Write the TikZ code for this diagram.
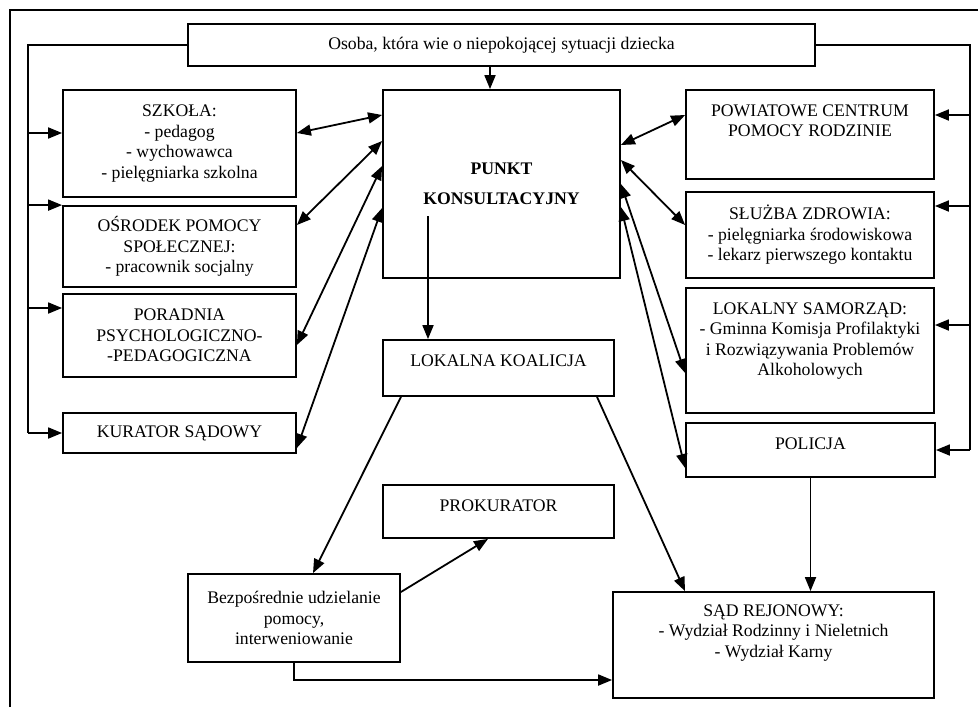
\documentclass[tikz,border=0pt]{standalone}
\usepackage{fontspec}
\setmainfont{Liberation Serif}
\usetikzlibrary{arrows.meta}

\begin{document}
\begin{tikzpicture}[x=0.5pt,y=-0.5pt,
  box/.style={draw,line width=0.9pt,inner sep=0pt},
  txt/.style={align=center,inner sep=0pt,font={\fontsize{8.85}{10.25}\selectfont}},
  toptxt/.style={txt,anchor=north,yshift=-7.5pt},
  arr/.style={line width=0.9pt,-{Triangle[length=7pt,width=5.5pt]}},
  biarr/.style={line width=0.9pt,{Triangle[length=7pt,width=5.5pt]}-{Triangle[length=7pt,width=5.5pt]}},
  bus/.style={line width=0.9pt}]
  \useasboundingbox (0,0) rectangle (978,707);

  % Page frame
  \draw[line width=0.6pt] (10,707) -- (10,10) -- (978,10);

  % Top box
  \node[box,txt,minimum width=313.5pt,minimum height=21pt] (osoba) at (501.5,45)
    {Osoba, która wie o niepokojącej sytuacji dziecka};

  % Left column
  \node[box,txt,minimum width=116.5pt,minimum height=53.5pt] (szkola) at (179.5,143.5)
    {SZKOŁA:\\- pedagog\\- wychowawca\\- pielęgniarka szkolna};
  \node[box,txt,minimum width=116.5pt,minimum height=40.5pt] (osrodek) at (179.5,246.5)
    {OŚRODEK POMOCY\\SPOŁECZNEJ:\\- pracownik socjalny};
  \node[box,txt,minimum width=116.5pt,minimum height=41.5pt] (poradnia) at (179.5,335.5)
    {PORADNIA\\PSYCHOLOGICZNO-\\-PEDAGOGICZNA};
  \node[box,txt,minimum width=116.5pt,minimum height=20pt] (kurator) at (179.5,433)
    {KURATOR SĄDOWY};

  % Centre column
  \node[box,txt,minimum width=118.5pt,minimum height=94pt] (punkt) at (501.5,184)
    {\bfseries PUNKT\\[4.75pt]\bfseries KONSULTACYJNY};
  \node[box,minimum width=115.5pt,minimum height=28pt] (lokalna) at (498.5,368) {};
  \node[toptxt] (lokalna-txt) at (lokalna.north) {LOKALNA KOALICJA};
  \node[box,minimum width=115.5pt,minimum height=26.5pt] (prokurator) at (498.5,511.5) {};
  \node[toptxt] (prokurator-txt) at (prokurator.north) {PROKURATOR};
  \node[box,txt,minimum width=106pt,minimum height=44pt] (bezp) at (294,618)
    {Bezpośrednie udzielanie\\pomocy,\\interweniowanie};

  % Right column
  \node[box,minimum width=124pt,minimum height=44.5pt] (powiat) at (810,134.5) {};
  \node[toptxt] (powiat-txt) at (powiat.north) {POWIATOWE CENTRUM\\POMOCY RODZINIE};
  \node[box,txt,minimum width=124pt,minimum height=43pt] (sluzba) at (810,235)
    {SŁUŻBA ZDROWIA:\\- pielęgniarka środowiskowa\\- lekarz pierwszego kontaktu};
  \node[box,minimum width=124pt,minimum height=62.5pt] (samorzad) at (810,350.5) {};
  \node[toptxt] (samorzad-txt) at (samorzad.north)
    {LOKALNY SAMORZĄD:\\- Gminna Komisja Profilaktyki\\i Rozwiązywania Problemów\\Alkoholowych};
  \node[box,minimum width=124.5pt,minimum height=27pt] (policja) at (810.5,450) {};
  \node[toptxt] (policja-txt) at (policja.north) {POLICJA};
  \node[box,minimum width=160.5pt,minimum height=53pt] (sad) at (773.5,645) {};
  \node[toptxt,yshift=1pt] (sad-txt) at (sad.north)
    {SĄD REJONOWY:\\- Wydział Rodzinny i Nieletnich\\- Wydział Karny};

  % Side lines from the top box
  \coordinate (lbus) at (28,45);
  \coordinate (rbus) at (970,45);
  \coordinate (szkola-in) at ([yshift=5.25pt]szkola.west);
  \coordinate (poradnia-in) at ([yshift=13.75pt]poradnia.west);
  \coordinate (powiat-in) at ([yshift=9.75pt]powiat.east);
  \coordinate (sluzba-in) at ([yshift=14.5pt]sluzba.east);
  \coordinate (samorzad-in) at ([yshift=12.75pt]samorzad.east);
  \draw[bus] (osoba.west) -| (lbus |- kurator.west);
  \draw[bus] (osoba.east) -| (rbus |- policja.east);
  \draw[arr] (lbus |- szkola-in) -- (szkola-in);
  \draw[arr] (lbus |- osrodek.north west) -- (osrodek.north west);
  \draw[arr] (lbus |- poradnia-in) -- (poradnia-in);
  \draw[arr] (lbus |- kurator.west) -- (kurator.west);
  \draw[arr] (rbus |- powiat-in) -- (powiat-in);
  \draw[arr] (rbus |- sluzba-in) -- (sluzba-in);
  \draw[arr] (rbus |- samorzad-in) -- (samorzad-in);
  \draw[arr] (rbus |- policja.east) -- (policja.east);

  % Top box to Punkt
  \draw[arr] ([xshift=-5.75pt]osoba.south) -- ([xshift=-5.75pt]punkt.north);

  % Punkt <-> institutions
  \draw[biarr] ([yshift=5.25pt]szkola.east) -- ([yshift=34.5pt]punkt.west);
  \draw[biarr] ([yshift=10.75pt]osrodek.east) -- ([yshift=21.5pt]punkt.west);
  \draw[biarr] ([yshift=-4.75pt]poradnia.east) -- ([yshift=9pt]punkt.west);
  \draw[biarr] ([yshift=-7.5pt]kurator.east) -- ([yshift=-12pt]punkt.west);
  \draw[biarr] ([yshift=19.5pt]punkt.east) -- ([yshift=9.75pt]powiat.west);
  \draw[biarr] ([yshift=12pt]punkt.east) -- ([yshift=5pt]sluzba.west);
  \draw[biarr] (punkt.east) -- ([yshift=-11.25pt]samorzad.west);
  \draw[biarr] ([yshift=-11.5pt]punkt.east) -- ([yshift=-9pt]policja.west);

  % Lower part
  \coordinate (pk) at ([xshift=-36.75pt,yshift=-16pt]punkt.center);
  \draw[arr] (pk) -- (pk |- lokalna.north);
  \draw[arr] ([xshift=-48.75pt]lokalna.south) -- ([xshift=9.5pt]bezp.north);
  \draw[arr] ([xshift=49.25pt]lokalna.south) -- ([xshift=-44.25pt]sad.north);
  \draw[arr] ([yshift=13pt]bezp.east) -- ([xshift=-5.25pt]prokurator.south);
  \draw[arr] (bezp.south) |- ([yshift=-17.5pt]sad.west);
  \draw[arr] (policja.south) -- (policja.south |- sad.north);
\end{tikzpicture}
\end{document}
